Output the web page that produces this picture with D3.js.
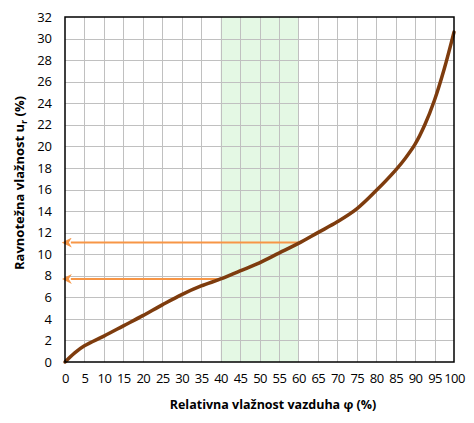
<!DOCTYPE html>
<html>
<head>
<meta charset="utf-8">
<style>
  body { margin: 0; background: #fff; }
  svg text { font-family: "Open Sans", sans-serif; fill: #000; }
</style>
</head>
<body>
<svg width="474" height="423"></svg>
<script src="https://d3js.org/d3.v7.min.js"></script>
<script>
  // data
  var phi = [0, 2.5, 5, 10, 15, 20, 25, 30, 35, 40, 45, 50, 55, 60, 65, 70, 75, 80, 85, 87.5, 90, 92.5, 95, 97.5, 100];
  var ur  = [0, 0.85, 1.5, 2.4, 3.35, 4.3, 5.3, 6.25, 7.05, 7.7, 8.45, 9.2, 10.1, 11.0, 12.0, 13.0, 14.2, 15.9, 17.8, 18.9, 20.2, 22.0, 24.3, 27.2, 30.6];
  var xTicks = d3.range(0, 101, 5);
  var yTicks = d3.range(0, 33, 2);
  var band = [40, 60];
  var arrows = [[40, 7.7], [60, 11.08]];

  var svg = d3.select("svg"),
    margin = { top: 17, right: 20, bottom: 61, left: 65 },
    width = 474 - margin.left - margin.right,
    height = 423 - margin.top - margin.bottom,
    g = svg.append("g").attr("transform", "translate(" + margin.left + "," + margin.top + ")");

  var x = d3.scaleLinear().domain([0, 100]).range([0, width]);
  var y = d3.scaleLinear().domain([0, 32]).range([height, 0]);

  // green band
  g.append("rect")
    .attr("x", x(band[0]))
    .attr("y", 0)
    .attr("width", x(band[1]) - x(band[0]))
    .attr("height", height)
    .attr("fill", "#e4f8e4");

  // grid
  g.append("g").selectAll("line")
    .data(xTicks.slice(1, -1))
    .enter().append("line")
    .attr("x1", function (d) { return Math.round(x(d)) + 0.5; })
    .attr("x2", function (d) { return Math.round(x(d)) + 0.5; })
    .attr("y1", 0).attr("y2", height)
    .attr("stroke", "#c0c0c0");

  g.append("g").selectAll("line")
    .data(yTicks.slice(1, -1))
    .enter().append("line")
    .attr("y1", function (d) { return Math.round(y(d)) + 0.5; })
    .attr("y2", function (d) { return Math.round(y(d)) + 0.5; })
    .attr("x1", 0).attr("x2", width)
    .attr("stroke", "#c0c0c0");

  // arrows
  svg.append("defs").append("marker")
    .attr("id", "head")
    .attr("viewBox", "0 0 10 10")
    .attr("refX", 1).attr("refY", 5)
    .attr("markerWidth", 5).attr("markerHeight", 5)
    .attr("orient", "auto-start-reverse")
    .append("path")
    .attr("d", "M0,0 L10,5 L0,10 L3,5 Z")
    .attr("fill", "#f79646");

  g.append("g").selectAll("line")
    .data(arrows)
    .enter().append("line")
    .attr("x1", function (d) { return x(d[0]); })
    .attr("x2", x(1.5))
    .attr("y1", function (d) { return y(d[1]); })
    .attr("y2", function (d) { return y(d[1]); })
    .attr("stroke", "#f79646")
    .attr("stroke-width", 2)
    .attr("marker-end", "url(#head)");

  // curve
  var line = d3.line()
    .x(function (d, i) { return x(phi[i]); })
    .y(function (d) { return y(d); })
    .curve(d3.curveCatmullRom.alpha(0.5));

  g.append("path")
    .datum(ur)
    .attr("d", line)
    .attr("fill", "none")
    .attr("stroke", "#7e3c0e")
    .attr("stroke-width", 3.5)
    .attr("stroke-linecap", "round");

  // frame
  g.append("rect")
    .attr("width", width).attr("height", height)
    .attr("fill", "none")
    .attr("stroke", "#000")
    .attr("stroke-width", 1.5);

  // axes
  var xAxis = g.append("g")
    .attr("transform", "translate(0," + height + ")")
    .call(d3.axisBottom(x).tickValues(xTicks).tickSize(0).tickPadding(12));
  var yAxis = g.append("g")
    .call(d3.axisLeft(y).tickValues(yTicks).tickSize(0).tickPadding(13));
  [xAxis, yAxis].forEach(function (a) {
    a.select(".domain").remove();
    a.selectAll("text").style("font-size", "13px").style("font-family", "Open Sans, sans-serif");
  });
  xAxis.selectAll("text").attr("letter-spacing", "-0.6px");

  // titles
  svg.append("text")
    .attr("x", 273)
    .attr("y", 409)
    .attr("text-anchor", "middle")
    .attr("font-weight", "bold")
    .style("font-size", "12.5px")
    .text("Relativna vlažnost vazduha φ (%)");

  var yt = svg.append("text")
    .attr("transform", "translate(24,183) rotate(-90)")
    .attr("text-anchor", "middle")
    .attr("font-weight", "bold")
    .style("font-size", "13px");
  yt.append("tspan").text("Ravnotežna vlažnost u");
  yt.append("tspan").attr("dy", 3).style("font-size", "9px").text("r");
  yt.append("tspan").attr("dy", -3).text(" (%)");
</script>
</body>
</html>
